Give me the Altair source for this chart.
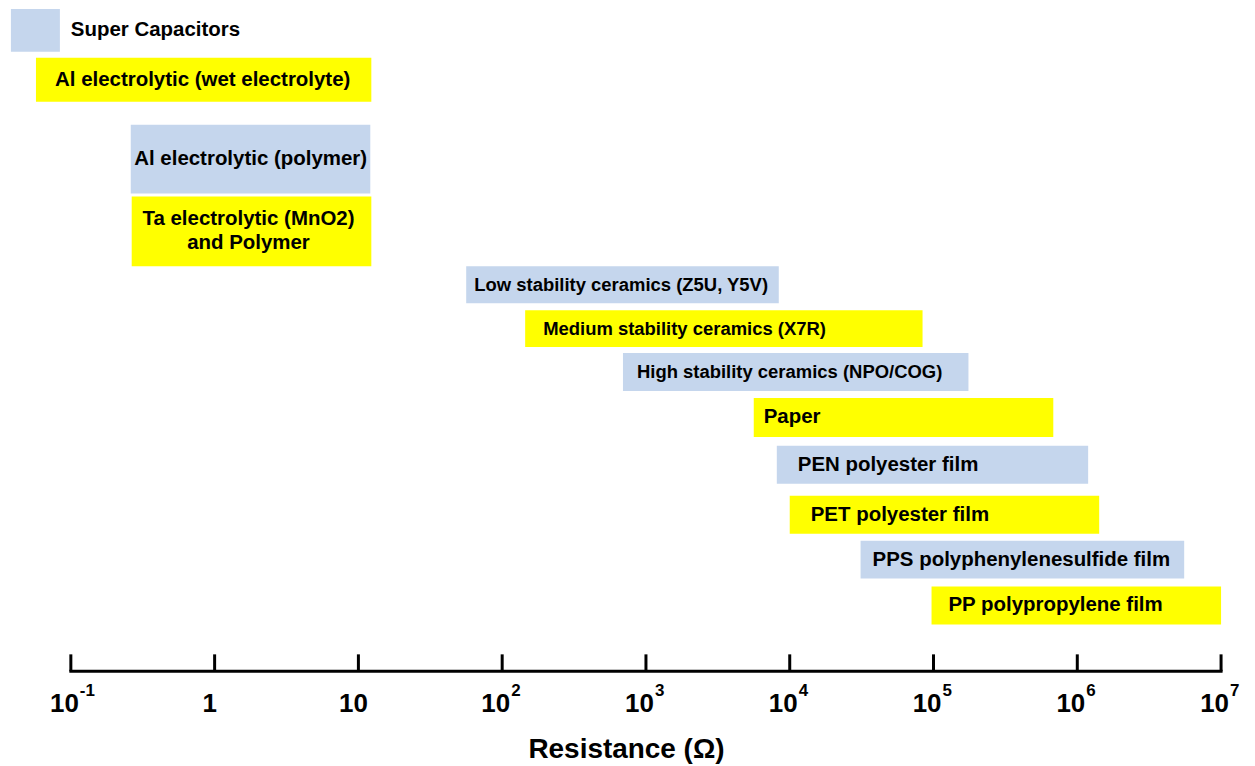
import altair as alt
import pandas as pd

# ---------------- data ----------------
names = [
    "Super Capacitors",
    "Al electrolytic (wet electrolyte)",
    "Al electrolytic (polymer)",
    "Ta electrolytic (MnO2)\nand Polymer",
    "Low stability ceramics (Z5U, Y5V)",
    "Medium stability ceramics (X7R)",
    "High stability ceramics (NPO/COG)",
    "Paper",
    "PEN polyester film",
    "PET polyester film",
    "PPS polyphenylenesulfide film",
    "PP polypropylene film",
]
kinds = ["Supercapacitor", "Electrolytic", "Electrolytic", "Electrolytic",
         "Ceramic", "Ceramic", "Ceramic", "Paper", "Film", "Film", "Film", "Film"]
# resistance range of each capacitor family (ohm)
r_low = [0.0383, 0.0572, 0.261, 0.265, 56.2, 144.5, 692, 5620, 8130, 10000, 31100, 96900]
r_high = [0.0839, 12.3, 12.1, 12.3, 8390, 83900, 175000, 681000, 1.19e6, 1.42e6, 5.54e6, 1.0e7]
# vertical lanes (top/bottom, in lane units)
lane_top = [0.0, 4.9, 11.6, 18.8, 25.8, 30.2, 34.5, 39.0, 43.8, 48.8, 53.3, 57.9]
lane_bottom = [4.3, 9.3, 18.5, 25.8, 29.5, 33.9, 38.3, 42.9, 47.6, 52.6, 57.1, 61.7]
# where each label sits on the resistance axis (ohm)
label_at = [0.1, 0.826, 1.78, 1.72, 64.0, 192.7, 866, 6590, 11370, 14000, 37700, 127000]
centered_labels = [names[1], names[2], names[3]]

tick_values = [0.1, 1, 10, 100, 1e3, 1e4, 1e5, 1e6, 1e7]
tick_base = ["10", "1", "10", "10", "10", "10", "10", "10", "10"]
tick_exp = ["-1", "", "", "2", "3", "4", "5", "6", "7"]
axis_title = "Resistance (Ω)"

# ---------------- tables ----------------
bars = pd.DataFrame({
    "name": names, "kind": kinds, "lo": r_low, "hi": r_high,
    "top": lane_top, "bottom": lane_bottom, "label_at": label_at,
})
bars["shade"] = ["blue" if i % 2 == 0 else "yellow" for i in range(len(bars))]
bars["centered"] = bars["name"].isin(centered_labels)
bars["multiline"] = bars["name"].str.contains("\n")

ticks = pd.DataFrame({"v": tick_values, "base": tick_base, "exp": tick_exp})
ticks["has_exp"] = ticks["exp"] != ""
axis_line = pd.DataFrame({"lo": [min(tick_values)], "hi": [max(tick_values)]})

W, H = 1153, 664
FONT = "Liberation Sans"

xs = alt.Scale(type="log", domain=[0.1, 1e7], nice=False)
ys = alt.Scale(domain=[0, 66.4], reverse=True, nice=False, zero=False)

size_scale = alt.Scale(type="ordinal",
                       domain=["Supercapacitor", "Electrolytic", "Ceramic", "Paper", "Film"],
                       range=[20.5, 20.5, 18.5, 20.5, 20.5])

rects = alt.Chart(bars).mark_rect().encode(
    x=alt.X("lo:Q", scale=xs, axis=None),
    x2="hi:Q",
    y=alt.Y("top:Q", scale=ys, axis=None),
    y2="bottom:Q",
    color=alt.Color("shade:N", scale=alt.Scale(domain=["blue", "yellow"],
                                               range=["#C5D6ED", "#FFFF00"]), legend=None),
)

label_base = alt.Chart(bars).transform_calculate(mid="(datum.top + datum.bottom) / 2")
label_enc = dict(
    x=alt.X("label_at:Q", scale=xs, axis=None),
    y=alt.Y("mid:Q", scale=ys, axis=None),
    text="name:N",
    size=alt.Size("kind:N", scale=size_scale, legend=None),
)

labels_center = label_base.transform_filter("datum.centered && !datum.multiline").mark_text(
    font=FONT, fontWeight="bold", align="center", baseline="middle", color="black",
).encode(**label_enc)

labels_multi = label_base.transform_filter("datum.centered && datum.multiline").mark_text(
    font=FONT, fontWeight="bold", align="center", baseline="middle",
    lineBreak="\n", lineHeight=24, dy=-12, color="black",
).encode(**label_enc)

labels_left = label_base.transform_filter("!datum.centered").mark_text(
    font=FONT, fontWeight="bold", align="left", baseline="middle", color="black",
).encode(**label_enc)

axis_rule = alt.Chart(axis_line).mark_rule(strokeWidth=3, color="black", strokeCap="square").encode(
    x=alt.X("lo:Q", scale=xs, axis=None),
    x2="hi:Q",
    y=alt.value(H),
)

tick_marks = alt.Chart(ticks).mark_rule(strokeWidth=3, color="black").encode(
    x=alt.X("v:Q", scale=xs, axis=None),
    y=alt.value(H - 17),
    y2=alt.value(H),
)

base_exp = alt.Chart(ticks).transform_filter("datum.has_exp").mark_text(
    font=FONT, fontWeight="bold", fontSize=26, align="right", baseline="alphabetic",
    dx=8, color="black",
).encode(x=alt.X("v:Q", scale=xs, axis=None), y=alt.value(H + 41), text="base:N")

base_plain = alt.Chart(ticks).transform_filter("!datum.has_exp").mark_text(
    font=FONT, fontWeight="bold", fontSize=26, align="center", baseline="alphabetic",
    dx=-5, color="black",
).encode(x=alt.X("v:Q", scale=xs, axis=None), y=alt.value(H + 41), text="base:N")

exps = alt.Chart(ticks).transform_filter("datum.has_exp").mark_text(
    font=FONT, fontWeight="bold", fontSize=17, align="left", baseline="alphabetic",
    dx=9, color="black",
).encode(x=alt.X("v:Q", scale=xs, axis=None), y=alt.value(H + 25), text="exp:N")

title = alt.Chart(pd.DataFrame({"t": [axis_title]})).mark_text(
    font=FONT, fontWeight="bold", fontSize=28, align="center", baseline="alphabetic",
    color="black",
).encode(x=alt.value(557), y=alt.value(H + 87), text="t:N")

chart = alt.layer(
    rects, labels_center, labels_multi, labels_left, axis_rule, tick_marks,
    base_exp, base_plain, exps, title,
).properties(
    width=W, height=H,
    autosize=alt.AutoSizeParams(type="none"),
    padding={"left": 63, "top": 0, "right": 26, "bottom": 96},
).configure(
    font=FONT, background="white", view=alt.ViewConfig(stroke=None),
)

chart.save("out.html", embed_options={"renderer": "svg", "actions": False})
